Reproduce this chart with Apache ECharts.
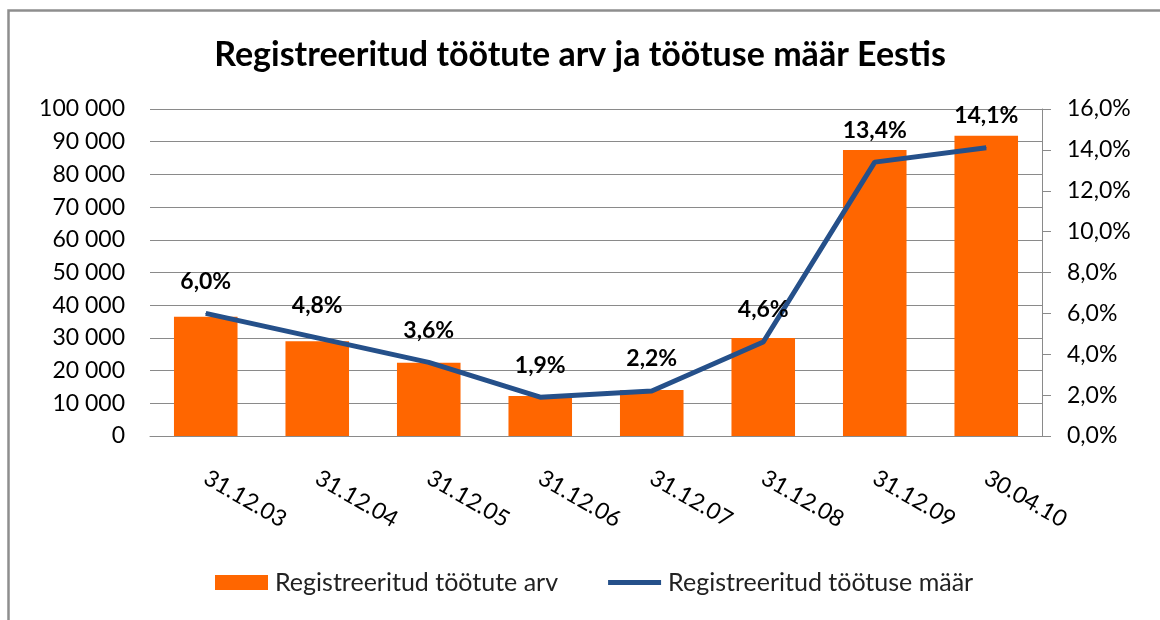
<!DOCTYPE html>
<html>
<head>
<meta charset="utf-8">
<script src="https://cdn.jsdelivr.net/npm/echarts@6/dist/echarts.min.js"></script>
<style>
html,body{margin:0;padding:0;background:#fff;}
#chart{width:1160px;height:620px;}
</style>
</head>
<body>
<div id="chart"></div>
<script>
const categories = ['31.12.03','31.12.04','31.12.05','31.12.06','31.12.07','31.12.08','31.12.09','30.04.10'];
const registeredCount = [36500, 29000, 22400, 12200, 14100, 30000, 87500, 91800];
const unemploymentRate = [6.0, 4.8, 3.6, 1.9, 2.2, 4.6, 13.4, 14.1];
const titleText = 'Registreeritud töötute arv ja töötuse määr Eestis';
const seriesNames = ['Registreeritud töötute arv', 'Registreeritud töötuse määr'];

const FONT = 'Lato';
const fmtThousands = v => String(v).replace(/\B(?=(\d{3})+(?!\d))/g, ' ');
const fmtPct = v => Number(v).toFixed(1).replace('.', ',') + '%';

const chart = echarts.init(document.getElementById('chart'));
chart.setOption({
  backgroundColor: '#fff',
  animation: false,
  textStyle: { fontFamily: FONT },
  title: {
    text: titleText,
    left: 'center',
    top: 33,
    textStyle: { fontFamily: FONT, fontSize: 34, fontWeight: 'bold', color: '#000' }
  },
  graphic: [
    { type: 'polyline', shape: { points: [[8.5, 620], [8.5, 10.5], [1160, 10.5]] },
      style: { stroke: '#8e8e8e', lineWidth: 2.5, fill: null } }
  ],
  legend: {
    bottom: 20,
    left: 210,
    itemWidth: 53,
    itemHeight: 15,
    itemGap: 50,
    symbolKeepAspect: true,
    textStyle: { fontFamily: FONT, fontSize: 25, color: '#222', padding: [0, 0, 0, 2] },
    data: [
      { name: seriesNames[0], icon: 'rect' },
      { name: seriesNames[1], icon: 'path://M0,0H53V5H0Z' }
    ]
  },
  grid: { left: 150, right: 118, top: 109, bottom: 184 },
  xAxis: {
    type: 'category',
    data: categories,
    axisLine: { show: true, lineStyle: { color: '#8a8a8a', width: 1 } },
    axisTick: { show: false },
    axisLabel: { rotate: -30, margin: 40, fontFamily: FONT, fontSize: 23, color: '#000' }
  },
  yAxis: [
    {
      type: 'value', min: 0, max: 100000, interval: 10000,
      axisLine: { show: false },
      axisTick: { show: false },
      splitLine: { show: true, lineStyle: { color: '#8a8a8a', width: 1 } },
      axisLabel: { margin: 25, fontFamily: FONT, fontSize: 23, color: '#000', formatter: fmtThousands }
    },
    {
      type: 'value', min: 0, max: 16, interval: 2,
      position: 'right',
      axisLine: { show: true, lineStyle: { color: '#8a8a8a', width: 1 } },
      axisTick: { show: true, inside: false, length: 9, lineStyle: { color: '#8a8a8a' } },
      splitLine: { show: false },
      axisLabel: { margin: 25, fontFamily: FONT, fontSize: 23, color: '#000', formatter: fmtPct }
    }
  ],
  series: [
    {
      name: seriesNames[0],
      type: 'bar',
      data: registeredCount,
      barWidth: '57%',
      itemStyle: { color: '#FF6600' }
    },
    {
      name: seriesNames[1],
      type: 'line',
      yAxisIndex: 1,
      data: unemploymentRate,
      showSymbol: true,
      symbol: 'circle',
      symbolSize: 1,
      itemStyle: { color: '#25508A' },
      lineStyle: { color: '#25508A', width: 5 },
      label: {
        show: true,
        position: 'top',
        distance: 20,
        fontFamily: FONT,
        fontSize: 23,
        fontWeight: 'bold',
        color: '#000',
        formatter: p => fmtPct(p.value)
      }
    }
  ]
});
</script>
</body>
</html>
